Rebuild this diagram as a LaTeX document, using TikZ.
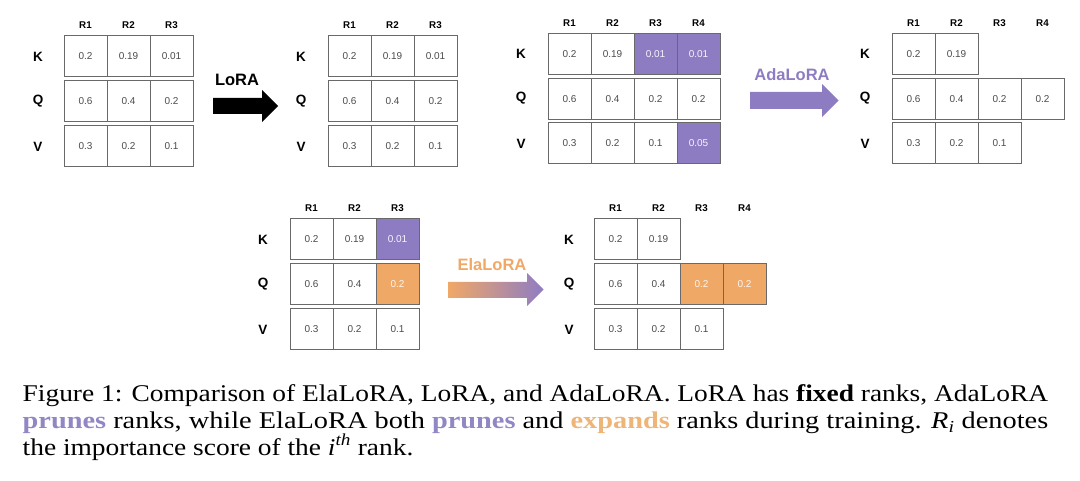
\documentclass[tikz,border=0pt]{standalone}
\usepackage{fontspec}
\usepackage{graphicx}
\newfontfamily\dfont{Liberation Sans}
\newfontfamily\capfont{Liberation Serif}
\definecolor{purp}{RGB}{142,124,195}
\definecolor{orng}{RGB}{240,168,102}
\definecolor{cellgray}{RGB}{105,105,105}
\definecolor{numgray}{RGB}{75,75,75}
\definecolor{cpurp}{RGB}{146,134,196}
\definecolor{corng}{RGB}{238,180,120}
\tikzset{
  cell/.style={draw=cellgray, line width=1pt, minimum width=43pt, minimum height=41pt,
    inner sep=0pt, outer sep=0pt, anchor=north west, font=\dfont\fontsize{10}{12}\selectfont, text=numgray},
  nc/.style={},
  pc/.style={fill=purp, text=white!92!purp},
  oc/.style={fill=orng, text=white!90!orng},
  hdr/.style={font=\dfont\bfseries\fontsize{9.8}{12}\selectfont, inner sep=0pt},
  rlab/.style={font=\dfont\bfseries\fontsize{13.5}{15}\selectfont, inner sep=0pt},
  alab/.style={font=\dfont\bfseries\fontsize{16.5}{18}\selectfont, inner sep=0pt},
  capnode/.style={anchor=base west, inner sep=0pt, outer sep=0pt}
}
\newcommand\cellrow[4]{%
  \foreach \v/\s [count=\i from 1] in {#4}{\node[cell,\s] (#1-\i) at ({#2+43*(\i-1)},#3) {\v};}}
\newcommand\heads[4]{% name, x0, y, n
  \foreach \i in {1,...,#4}{\node[hdr] (#1-\i) at ({#2+21.5+43*(\i-1)},#3) {R\i};}}
\newcommand\rowlabs[5]{% name, x, yK, yQ, yV
  \node[rlab] (#1-K) at (#2,#3) {K};
  \node[rlab] (#1-Q) at (#2,#4) {Q};
  \node[rlab] (#1-V) at (#2,#5) {V};}
\newcommand\capsz{\capfont\fontsize{24}{26}\selectfont}
\newcommand\capone{Figure 1: Comparison of ElaLoRA, LoRA, and AdaLoRA. LoRA has \textbf{fixed} ranks, AdaLoRA}
\newlength\capw
\begin{document}
\begin{tikzpicture}[x=1pt,y=-1pt]
\useasboundingbox (0,0) rectangle (1080,481);
% ---------- Diagram 1 ----------
\heads{aH}{64}{25}{3}
\rowlabs{aL}{38}{56.5}{101.5}{146.5}
\cellrow{aK}{64}{36}{0.2/nc,0.19/nc,0.01/nc}
\cellrow{aQ}{64}{81}{0.6/nc,0.4/nc,0.2/nc}
\cellrow{aV}{64}{126}{0.3/nc,0.2/nc,0.1/nc}
% ---------- LoRA arrow ----------
\node[alab] (loralab) at (237,80) {LoRA};
\fill[black] (213,98) -- (262,98) -- (262,90) -- (278,106) -- (262,122) -- (262,114) -- (213,114) -- cycle;
% ---------- Diagram 2 ----------
\heads{bH}{328}{25}{3}
\rowlabs{bL}{301}{56.5}{101.5}{146.5}
\cellrow{bK}{328}{36}{0.2/nc,0.19/nc,0.01/nc}
\cellrow{bQ}{328}{81}{0.6/nc,0.4/nc,0.2/nc}
\cellrow{bV}{328}{126}{0.3/nc,0.2/nc,0.1/nc}
% ---------- Diagram 3 ----------
\heads{cH}{548}{23}{4}
\rowlabs{cL}{521}{54}{98.5}{143.5}
\cellrow{cK}{548}{34}{0.2/nc,0.19/nc,0.01/pc,0.01/pc}
\cellrow{cQ}{548}{78.5}{0.6/nc,0.4/nc,0.2/nc,0.2/nc}
\cellrow{cV}{548}{123}{0.3/nc,0.2/nc,0.1/nc,0.05/pc}
% ---------- AdaLoRA arrow ----------
\node[alab, text=purp] (adalab) at (792,75) {AdaLoRA};
\fill[purp] (750,92) -- (822,92) -- (822,84) -- (838.5,100.5) -- (822,117) -- (822,109) -- (750,109) -- cycle;
% ---------- Diagram 4 ----------
\heads{dH}{892}{23}{4}
\rowlabs{dL}{865}{54}{98.5}{143.5}
\cellrow{dK}{892}{34}{0.2/nc,0.19/nc}
\cellrow{dQ}{892}{78.5}{0.6/nc,0.4/nc,0.2/nc,0.2/nc}
\cellrow{dV}{892}{123}{0.3/nc,0.2/nc,0.1/nc}
% ---------- Diagram 5 ----------
\heads{eH}{290}{208}{3}
\rowlabs{eL}{263}{239.5}{284.5}{329.5}
\cellrow{eK}{290}{219}{0.2/nc,0.19/nc,0.01/pc}
\cellrow{eQ}{290}{264}{0.6/nc,0.4/nc,0.2/oc}
\cellrow{eV}{290}{309}{0.3/nc,0.2/nc,0.1/nc}
% ---------- ElaLoRA arrow ----------
\node[alab, text=orng] (elalab) at (492,265) {ElaLoRA};
\shade[left color=orng, right color=purp] (448,282) -- (527,282) -- (527,273) -- (543.5,289.5) -- (527,306) -- (527,298) -- (448,298) -- cycle;
% ---------- Diagram 6 ----------
\heads{fH}{594}{208}{4}
\rowlabs{fL}{569}{239.5}{284.5}{329.5}
\cellrow{fK}{594}{219}{0.2/nc,0.19/nc}
\cellrow{fQ}{594}{264}{0.6/nc,0.4/nc,0.2/oc,0.2/oc}
\cellrow{fV}{594}{309}{0.3/nc,0.2/nc,0.1/nc}
% ---------- Caption ----------
\node[capnode] (cap1) at (22.7,401.7) {\resizebox{1025.5pt}{\height}{\capsz \capone}};
\node[capnode] (cap2) at (22.7,428.3) {\resizebox{1025.5pt}{\height}{\capsz \textcolor{cpurp}{\textbf{prunes}} ranks, while ElaLoRA both \textcolor{cpurp}{\textbf{prunes}} and \textcolor{corng}{\textbf{expands}} ranks during training. \textit{R\textsubscript{i}} denotes}};
\node[capnode] (cap3) at (22.7,455) {\capsz\settowidth\capw{\capone}\pgfmathsetmacro\capsx{1025.5/\capw}\scalebox{\capsx}[1]{the importance score of the \textit{i\textsuperscript{th}} rank.}};
\end{tikzpicture}
\end{document}
